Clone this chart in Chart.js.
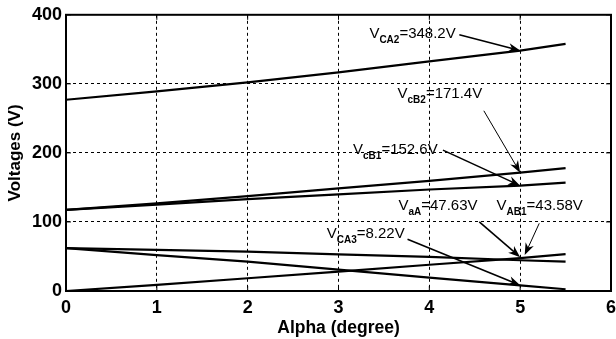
<!DOCTYPE html>
<html>
<head>
<meta charset="utf-8">
<script src="https://cdn.jsdelivr.net/npm/chart.js@4.4.1/dist/chart.umd.min.js"></script>
<style>
  html, body { margin: 0; padding: 0; background: #fff; }
  #wrap { width: 616px; height: 339px; }
</style>
</head>
<body>
<div id="wrap"><canvas id="voltChart"></canvas></div>
<script>
// alpha (degree) sample points
const alpha = [0, 1, 2, 3, 4, 5, 5.5];

// voltages
const vCA2 = [277, 289, 302, 316.5, 332.5, 348.2, 358];
const vcB2 = [117.5, 127, 137.5, 148.5, 159.5, 171.4, 178];
const vcB1 = [117.5, 125, 133, 140, 147, 152.6, 157];
const vAB1 = [62, 59.5, 57, 53, 49.5, 44.5, 42.5];
const vCA3 = [62, 52, 42.5, 31, 19.5, 8.22, 2.5];
const vaA  = [0, 9, 18.5, 28, 38, 47.63, 53.5];

const xTicks = [0, 1, 2, 3, 4, 5, 6];
const yTicks = [0, 100, 200, 300, 400];

// callouts: label text, subscript, value text, label anchor, arrow start, arrow tip
const callouts = [
    { main: 'V', sub: 'CA2', rest: '=348.2V', at: [3.34, 367], from: [4.33, 371], to: [5, 348.2], thin: false },
    { main: 'V', sub: 'cB2', rest: '=171.4V', at: [3.65, 279], from: [4.60, 261], to: [5, 171.4], thin: true },
    { main: 'V', sub: 'cB1', rest: '=152.6V', at: [3.16, 199], from: [4.15, 204], to: [5, 152.6], thin: false },
    { main: 'V', sub: 'aA', rest: '=47.63V', at: [3.66, 117], from: [4.55, 100], to: [5, 49], thin: false },
    { main: 'V', sub: 'AB1', rest: '=43.58V', at: [4.74, 117], from: [5.21, 98], to: [5.05, 52], thin: true },
    { main: 'V', sub: 'CA3', rest: '=8.22V', at: [2.87, 76.5], from: [3.76, 75], to: [5, 8.22], thin: false }
];

const FONT = 'Arial, "Liberation Sans", sans-serif';

const toPts = ys => alpha.map((x, i) => ({ x: x, y: ys[i] }));
const mkSet = (label, ys) => ({
    label, data: toPts(ys), borderColor: '#000', borderWidth: 2.2,
    pointRadius: 0, fill: false, tension: 0
});

const boxPlugin = {
    id: 'box',
    afterDatasetsDraw(chart) {
        const { ctx, chartArea: a, scales } = chart;
        ctx.save();
        // inward tick marks on all four sides
        ctx.strokeStyle = '#000';
        ctx.lineWidth = 1;
        xTicks.forEach(t => {
            const px = scales.x.getPixelForValue(t);
            ctx.beginPath();
            ctx.moveTo(px, a.bottom); ctx.lineTo(px, a.bottom - 5);
            ctx.moveTo(px, a.top); ctx.lineTo(px, a.top + 5);
            ctx.stroke();
        });
        yTicks.forEach(t => {
            const py = scales.y.getPixelForValue(t);
            ctx.beginPath();
            ctx.moveTo(a.left, py); ctx.lineTo(a.left + 5, py);
            ctx.moveTo(a.right, py); ctx.lineTo(a.right - 5, py);
            ctx.stroke();
        });
        ctx.lineWidth = 2;
        ctx.strokeRect(a.left, a.top, a.right - a.left, a.bottom - a.top);

        // callouts
        callouts.forEach(c => {
            const lx = scales.x.getPixelForValue(c.at[0]);
            const ly = scales.y.getPixelForValue(c.at[1]);
            ctx.fillStyle = '#000';
            ctx.textBaseline = 'alphabetic';
            ctx.textAlign = 'left';
            ctx.font = '15px ' + FONT;
            ctx.fillText(c.main, lx, ly);
            let w = ctx.measureText(c.main).width;
            ctx.font = 'bold 10px ' + FONT;
            ctx.fillText(c.sub, lx + w, ly + 5);
            w += ctx.measureText(c.sub).width;
            ctx.font = '15px ' + FONT;
            ctx.fillText(c.rest, lx + w, ly);

            const x0 = scales.x.getPixelForValue(c.from[0]);
            const y0 = scales.y.getPixelForValue(c.from[1]);
            const x1 = scales.x.getPixelForValue(c.to[0]);
            const y1 = scales.y.getPixelForValue(c.to[1]);
            const ang = Math.atan2(y1 - y0, x1 - x0);
            const hl = 12, hw = 4.5;
            ctx.lineWidth = c.thin ? 1 : 1.6;
            ctx.beginPath();
            ctx.moveTo(x0, y0);
            ctx.lineTo(x1 - Math.cos(ang) * hl * 0.6, y1 - Math.sin(ang) * hl * 0.6);
            ctx.stroke();
            ctx.beginPath();
            ctx.moveTo(x1, y1);
            ctx.lineTo(x1 - Math.cos(ang) * hl - Math.sin(ang) * hw, y1 - Math.sin(ang) * hl + Math.cos(ang) * hw);
            ctx.lineTo(x1 - Math.cos(ang) * hl * 0.7, y1 - Math.sin(ang) * hl * 0.7);
            ctx.lineTo(x1 - Math.cos(ang) * hl + Math.sin(ang) * hw, y1 - Math.sin(ang) * hl - Math.cos(ang) * hw);
            ctx.closePath();
            ctx.fill();
        });
        ctx.restore();
    }
};

new Chart(document.getElementById('voltChart'), {
    type: 'line',
    data: {
        datasets: [
            mkSet('VCA2', vCA2),
            mkSet('VcB2', vcB2),
            mkSet('VcB1', vcB1),
            mkSet('VAB1', vAB1),
            mkSet('VCA3', vCA3),
            mkSet('VaA', vaA)
        ]
    },
    options: {
        responsive: true,
        maintainAspectRatio: false,
        animation: false,
        layout: { padding: { top: 14, right: 0, left: 0, bottom: 0 } },
        plugins: { legend: { display: false }, tooltip: { enabled: false } },
        scales: {
            x: {
                type: 'linear', min: 0, max: 6,
                afterBuildTicks: s => { s.ticks = xTicks.map(v => ({ value: v })); },
                afterFit: s => { s.height = 48; s.paddingRight = 5; },
                ticks: { color: '#000', font: { family: FONT, size: 18, weight: 'bold' }, padding: 6, maxRotation: 0 },
                grid: { color: '#000', lineWidth: 1, drawTicks: false },
                border: { display: true, color: '#000', width: 2, dash: [3, 3] },
                title: { display: true, text: 'Alpha (degree)', color: '#000', font: { family: FONT, size: 17.5, weight: 'bold' }, padding: { top: 2, bottom: 0 } }
            },
            y: {
                min: 0, max: 400,
                afterBuildTicks: s => { s.ticks = yTicks.map(v => ({ value: v })); },
                afterFit: s => { s.width = 66; },
                ticks: { color: '#000', font: { family: FONT, size: 18, weight: 'bold' }, padding: 4 },
                grid: { color: '#000', lineWidth: 1, drawTicks: false },
                border: { display: true, color: '#000', width: 2, dash: [3, 3] },
                title: { display: true, text: 'Voltages (V)', color: '#000', font: { family: FONT, size: 17, weight: 'bold' }, padding: { top: 5, bottom: 0 } }
            }
        }
    },
    plugins: [boxPlugin]
});
</script>
</body>
</html>
